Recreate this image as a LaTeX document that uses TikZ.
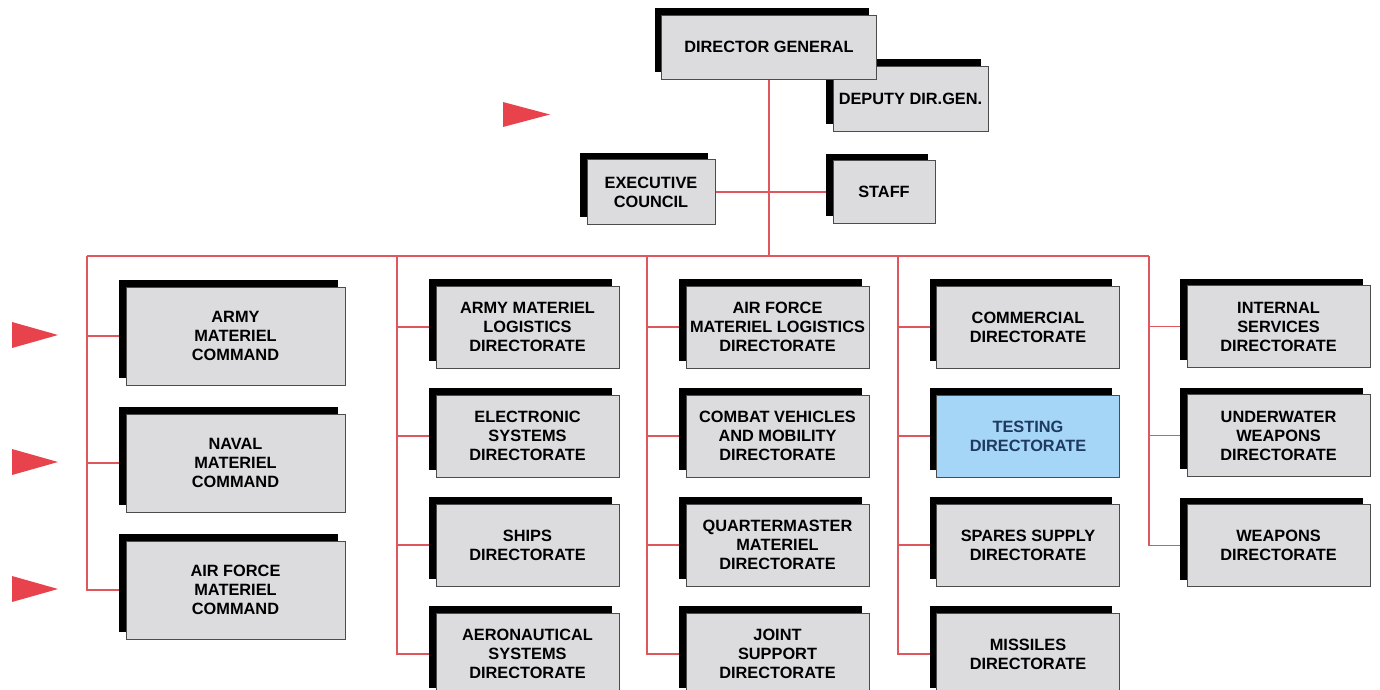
\documentclass[tikz,border=0pt]{standalone}
\usepackage{fontspec}
\setmainfont{Liberation Sans}
\usetikzlibrary{shadows}
\usetikzlibrary{backgrounds}
\definecolor{boxgray}{HTML}{DCDCDE}
\definecolor{linkred}{HTML}{E0565E}
\definecolor{pointred}{HTML}{E8424C}
\definecolor{testblue}{HTML}{A6D6F7}
\definecolor{testtext}{HTML}{1E3A60}
\tikzstyle{unit}=[draw=black!70, fill=boxgray, thin, align=center, inner sep=0, minimum width=3.66cm, minimum height=1.64cm, font=\fontsize{9.3}{10.8}\selectfont\bfseries, drop shadow={shadow xshift=-0.14cm, shadow yshift=0.14cm, opacity=1, fill=black}]
\tikzstyle{command}=[unit, minimum width=4.38cm, minimum height=1.96cm]
\tikzstyle{link}=[draw=linkred, line width=1pt]
\tikzstyle{pointer}=[fill=pointred]

\begin{document}
\begin{tikzpicture}[x=0.02cm, y=-0.02cm]
          \useasboundingbox (0,0) rectangle (1380,690);
          \node[unit, minimum width=3.1cm, minimum height=1.3cm] (deputy) at (910.5,98.5) {DEPUTY DIR.GEN.};
          \node[unit, minimum width=4.3cm, minimum height=1.28cm] (dg) at (769,47) {DIRECTOR GENERAL};
          \node[unit, minimum width=2.56cm, minimum height=1.3cm] (exec) at (651,192) {EXECUTIVE\\COUNCIL};
          \node[unit, minimum width=2.04cm, minimum height=1.26cm] (staff) at (884,192) {STAFF};

          \node[command] (army_cmd) at (235.5,336) {ARMY\\MATERIEL\\COMMAND};
          \node[command] (naval_cmd) at (235.5,463) {NAVAL\\MATERIEL\\COMMAND};
          \node[command] (airforce_cmd) at (235.5,590) {AIR FORCE\\MATERIEL\\COMMAND};

          \node[unit] (army_log) at (527.5,327) {ARMY MATERIEL\\LOGISTICS\\DIRECTORATE};
          \node[unit] (electronic) at (527.5,436) {ELECTRONIC\\SYSTEMS\\DIRECTORATE};
          \node[unit] (ships) at (527.5,545) {SHIPS\\DIRECTORATE};
          \node[unit] (aeronautical) at (527.5,654) {AERONAUTICAL\\SYSTEMS\\DIRECTORATE};

          \node[unit] (airforce_log) at (777.5,327) {AIR FORCE\\MATERIEL LOGISTICS\\DIRECTORATE};
          \node[unit] (combat) at (777.5,436) {COMBAT VEHICLES\\AND MOBILITY\\DIRECTORATE};
          \node[unit] (quartermaster) at (777.5,545) {QUARTERMASTER\\MATERIEL\\DIRECTORATE};
          \node[unit] (joint) at (777.5,654) {JOINT\\SUPPORT\\DIRECTORATE};

          \node[unit] (commercial) at (1028,327) {COMMERCIAL\\DIRECTORATE};
          \node[unit, fill=testblue, text=testtext] (testing) at (1028,436) {TESTING\\DIRECTORATE};
          \node[unit] (spares) at (1028,545) {SPARES SUPPLY\\DIRECTORATE};
          \node[unit] (missiles) at (1028,654) {MISSILES\\DIRECTORATE};

          \node[unit] (internal) at (1278.5,326.5) {INTERNAL\\SERVICES\\DIRECTORATE};
          \node[unit] (underwater) at (1278.5,435.5) {UNDERWATER\\WEAPONS\\DIRECTORATE};
          \node[unit] (weapons) at (1278.5,545.5) {WEAPONS\\DIRECTORATE};

          \begin{scope}[on background layer]
            \coordinate (bus_1) at (87,256);
            \coordinate (bus_2) at (397,256);
            \coordinate (bus_3) at (647,256);
            \coordinate (bus_4) at (898,256);
            \coordinate (bus_5) at (1149,256);

            \draw[link] (bus_1) -- (bus_5);
            \draw[link] (dg) -- (dg |- bus_1);
            \draw[link] (exec) -- (staff);

            \draw[link] (bus_1) |- (airforce_cmd);
            \draw[link] (bus_1 |- army_cmd) -- (army_cmd);
            \draw[link] (bus_1 |- naval_cmd) -- (naval_cmd);

            \draw[link] (bus_2) |- (aeronautical);
            \draw[link] (bus_2 |- army_log) -- (army_log);
            \draw[link] (bus_2 |- electronic) -- (electronic);
            \draw[link] (bus_2 |- ships) -- (ships);

            \draw[link] (bus_3) |- (joint);
            \draw[link] (bus_3 |- airforce_log) -- (airforce_log);
            \draw[link] (bus_3 |- combat) -- (combat);
            \draw[link] (bus_3 |- quartermaster) -- (quartermaster);

            \draw[link] (bus_4) |- (missiles);
            \draw[link] (bus_4 |- commercial) -- (commercial);
            \draw[link] (bus_4 |- testing) -- (testing);
            \draw[link] (bus_4 |- spares) -- (spares);

            \draw[link] (bus_5) |- (weapons);
            \draw[link] (bus_5 |- internal) -- (internal);
            \draw[link] (bus_5 |- underwater) -- (underwater);
          \end{scope}

          \fill[pointer] (503,102) -- (550,114.5) -- (503,127) -- cycle;
          \foreach \y in {335,462,589}
            \fill[pointer] (12,\y-13) -- (58,\y) -- (12,\y+13) -- cycle;
        \end{tikzpicture}
\end{document}
